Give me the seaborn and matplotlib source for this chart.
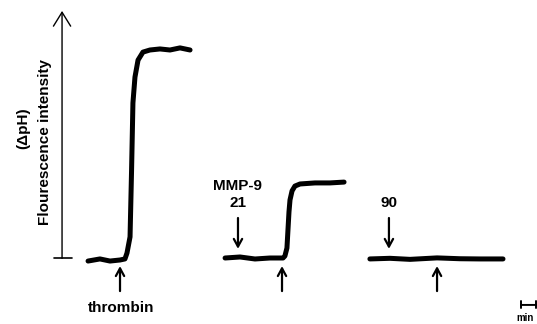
import matplotlib
matplotlib.use("Agg")
import matplotlib.pyplot as plt
import seaborn as sns
import pandas as pd

# ---- data (time in min, signal in % of thrombin response) ----
t_thrombin = [5.18, 5.88, 6.47, 7.06, 7.35, 7.47, 7.65, 7.74, 7.82, 7.94, 8.12, 8.41, 8.82, 9.41, 10.0, 10.59, 11.18]
y_thrombin = [-0.5, 0.5, -0.5, 0.0, 0.5, 3.3, 11.0, 42.9, 74.8, 87.1, 95.2, 99.0, 100.0, 100.5, 100.0, 101.0, 100.0]

t_mmp21 = [13.24, 14.12, 15.0, 15.88, 16.65, 16.76, 16.88, 16.94, 17.0, 17.06, 17.18, 17.35, 17.65, 18.53, 19.41, 20.24]
y_mmp21 = [0.95, 1.43, 0.48, 0.95, 0.95, 1.9, 5.7, 14.3, 22.9, 28.6, 32.9, 35.2, 36.2, 36.7, 36.7, 37.1]

t_mmp90 = [21.76, 22.94, 24.12, 25.71, 27.06, 28.24, 29.59]
y_mmp90 = [0.5, 0.8, 0.3, 1.0, 0.6, 0.5, 0.5]

# events: (time, label)
mmp_times = [14.0, 22.88]
mmp_labels = ["MMP-9\n21", "90"]
thrombin_times = [7.06, 16.59, 25.71]

df = pd.concat([
    pd.DataFrame({"t": t_thrombin, "y": y_thrombin, "trace": "control"}),
    pd.DataFrame({"t": t_mmp21, "y": y_mmp21, "trace": "mmp21"}),
    pd.DataFrame({"t": t_mmp90, "y": y_mmp90, "trace": "mmp90"}),
])

sns.set_theme(style="white")
plt.rcParams["font.family"] = ["Liberation Sans", "DejaVu Sans"]
plt.rcParams["font.weight"] = "bold"
plt.rcParams["text.color"] = "black"

fig = plt.figure(figsize=(5.37, 3.24), dpi=100)
ax = fig.add_axes([0, 0, 1, 1])
sns.lineplot(data=df, x="t", y="y", units="trace", estimator=None, sort=False,
             color="black", lw=3.6, ax=ax, legend=False)
ax.set_xlim(0, 31.59)
ax.set_ylim(-30.48, 123.81)
ax.axis("off")

# y axis arrow
ax.annotate("", xy=(3.65, 118.6), xytext=(3.65, 0.8),
            arrowprops=dict(arrowstyle="->,head_length=1.0,head_width=0.62", lw=1.0,
                            color="black", mutation_scale=10, shrinkA=0, shrinkB=0))
ax.plot([3.18, 4.24], [0.8, 0.8], color="black", lw=1.2)
ax.text(1.35, 63, "(\u0394pH)", rotation=90, ha="center", va="center", fontsize=11,
        fontweight="bold", color="black")
ax.text(2.65, 56, "Flourescence intensity", rotation=90, ha="center", va="center",
        fontsize=11, fontweight="bold", color="black")

arrow_kw = dict(arrowstyle="->,head_length=0.55,head_width=0.3", lw=1.6, color="black",
                mutation_scale=10, shrinkA=0, shrinkB=0)
# thrombin additions (up arrows)
for t in thrombin_times:
    ax.annotate("", xy=(t, -2.9), xytext=(t, -14.8), arrowprops=arrow_kw)
ax.text(thrombin_times[0] + 0.05, -22.9, "thrombin", ha="center", va="center", fontsize=11,
        fontweight="bold", color="black")

# MMP-9 additions (down arrows)
for t, lab in zip(mmp_times, mmp_labels):
    ax.annotate("", xy=(t, 5.3), xytext=(t, 20.0), arrowprops=arrow_kw)
    ax.text(t, 24.0, lab, ha="center", va="bottom", fontsize=11, fontweight="bold",
            linespacing=1.25, color="black")

# scale bar
ax.annotate("", xy=(31.55, -21.4), xytext=(30.65, -21.4),
            arrowprops=dict(arrowstyle="|-|,widthA=0.25,widthB=0.25", lw=1.4, color="black",
                            mutation_scale=10, shrinkA=0, shrinkB=0))
ax.text(30.35, -27.6, "min", ha="left", va="center", fontsize=7, fontweight="bold",
        color="black")

fig.savefig("out.png", dpi=100)
